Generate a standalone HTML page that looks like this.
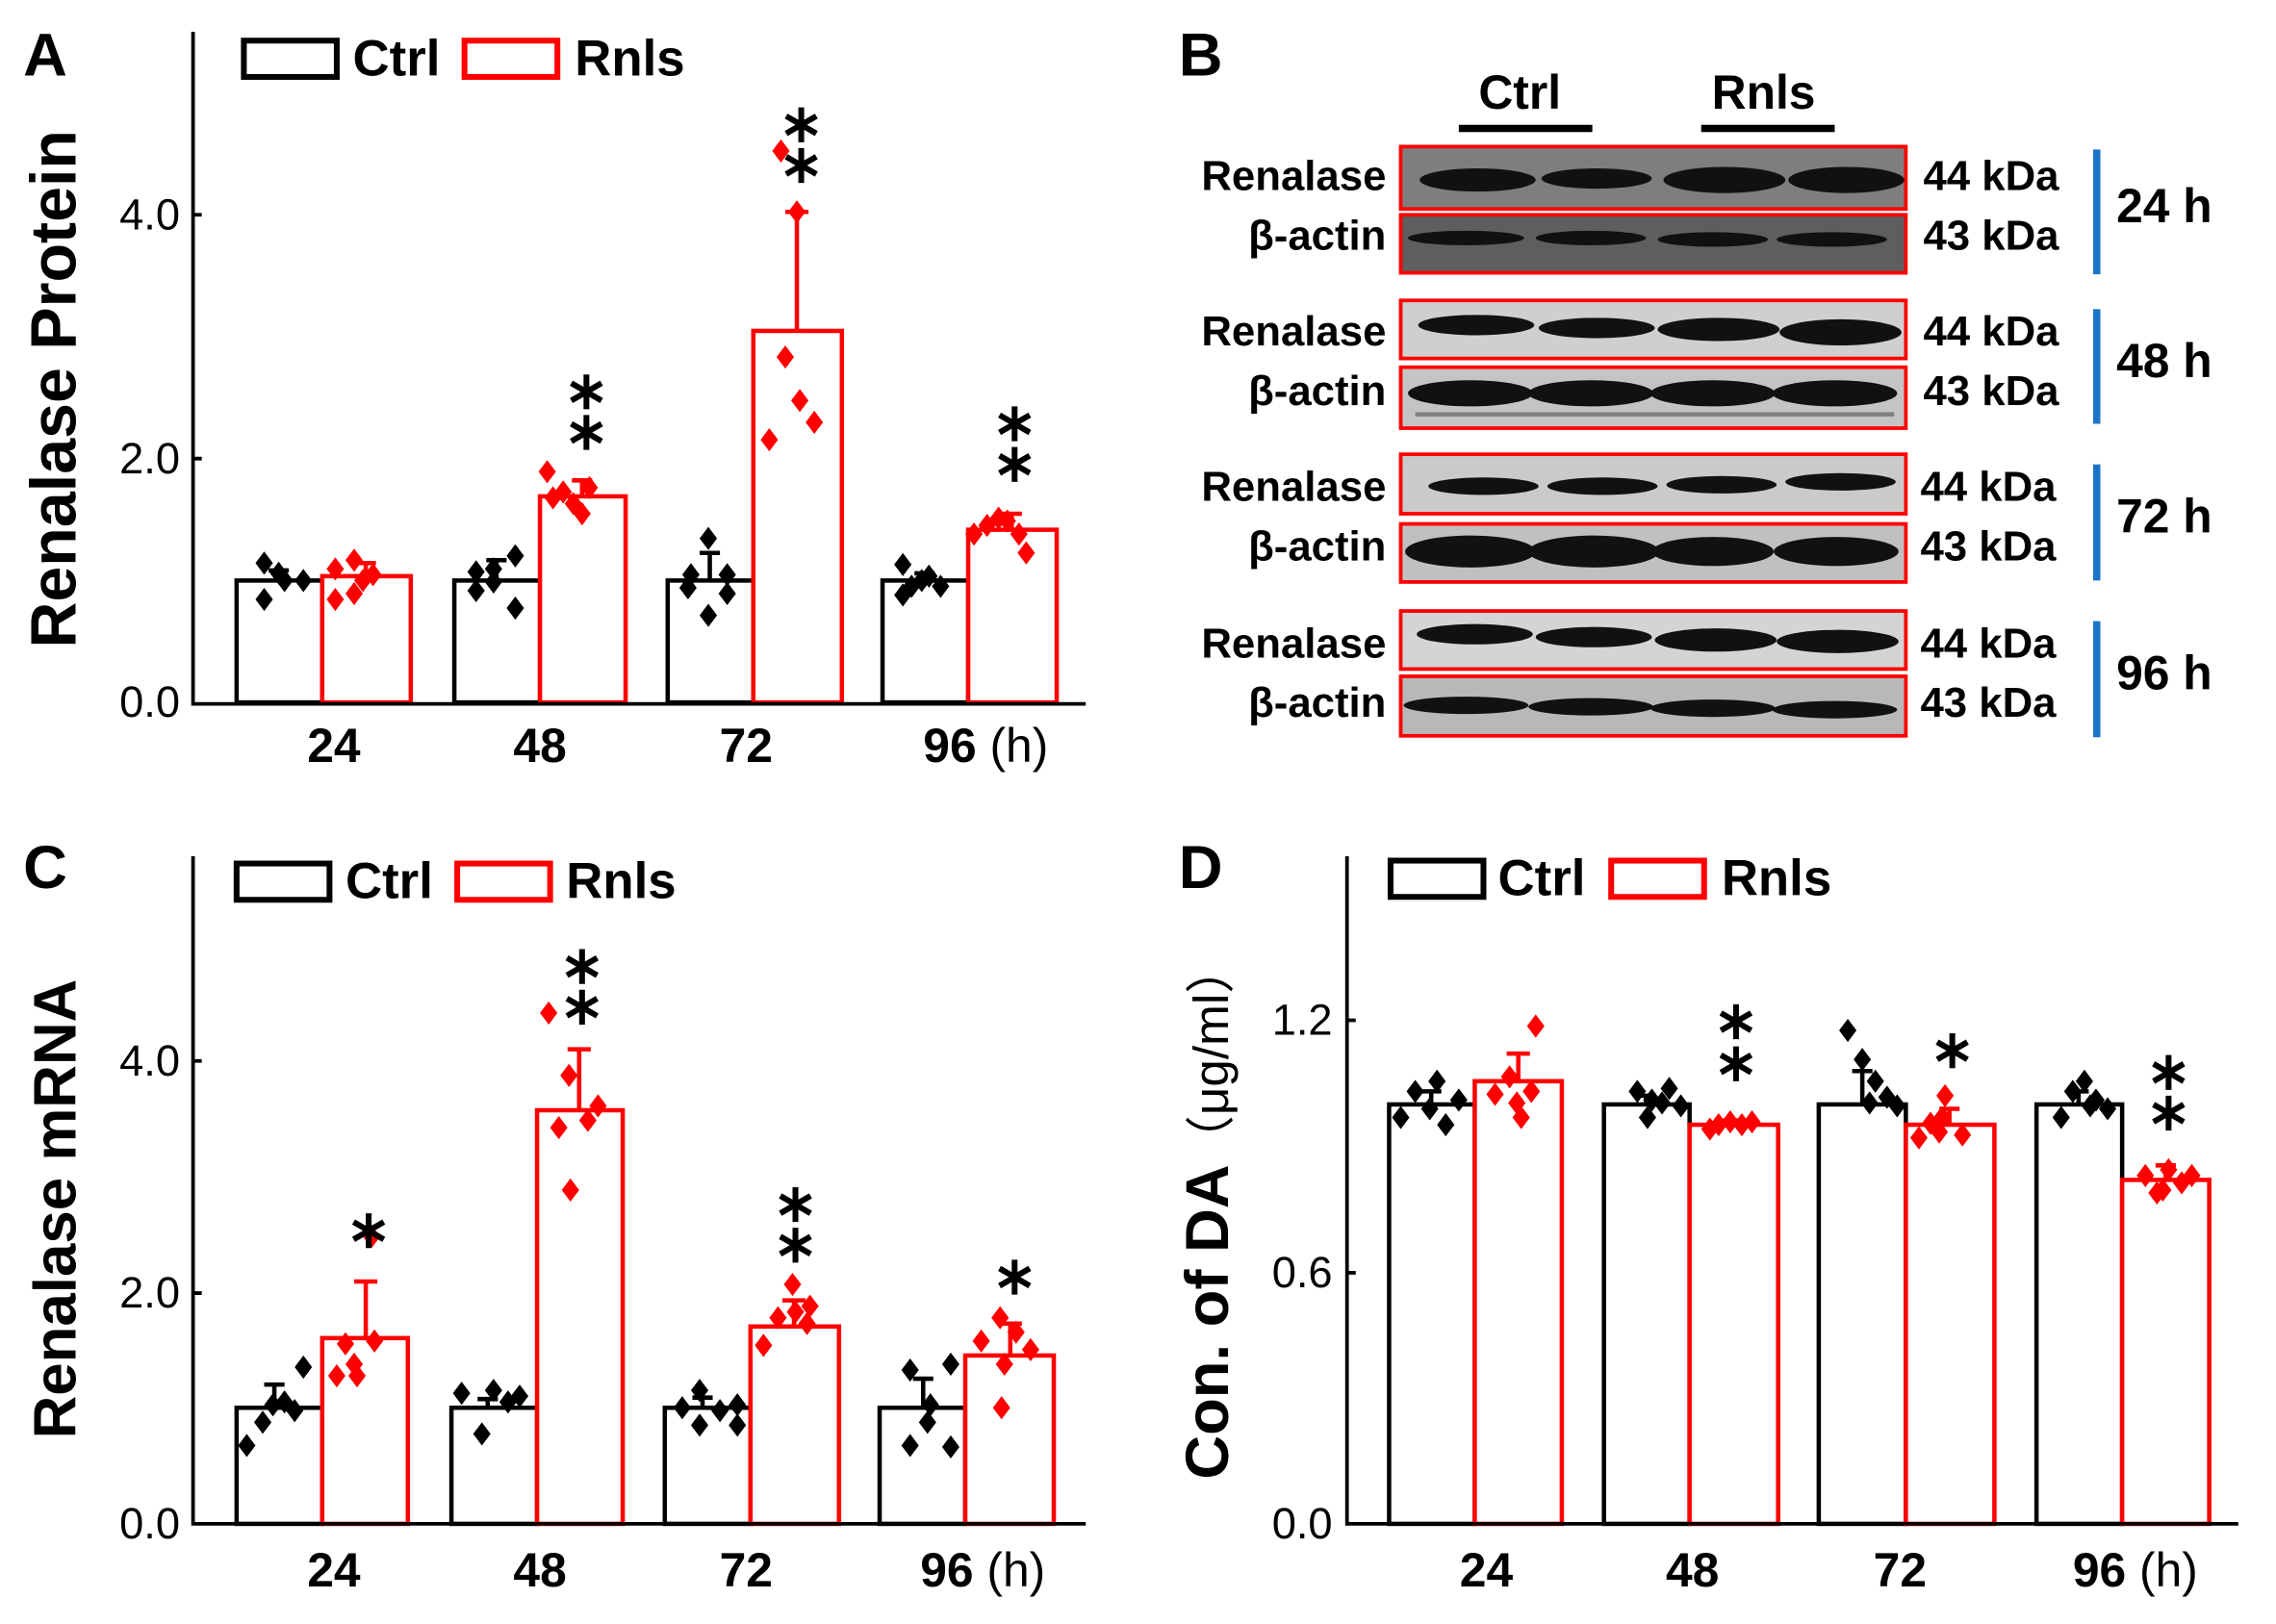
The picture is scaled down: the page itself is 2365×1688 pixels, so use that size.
<!DOCTYPE html>
<html><head><meta charset="utf-8"><style>
html,body{margin:0;padding:0;background:#fff;}
svg{display:block;}
.t{font-family:"Liberation Sans Narrow","Liberation Sans",sans-serif;}
.b{font-family:"Liberation Sans",sans-serif;font-weight:bold;}
</style></head><body>
<svg width="2365" height="1688" viewBox="0 0 1568 1119" preserveAspectRatio="none" xmlns="http://www.w3.org/2000/svg">
<rect width="1568" height="1119" fill="#fff"/>
<defs>
<path id="d" d="M0 -8 L6 0 L0 8 L-6 0Z"/>
<path id="s" d="M0 -12V12M-10.4 -6L10.4 6M-10.4 6L10.4 -6" stroke="#000" stroke-width="4"/>
</defs>

<!-- ============ PANEL A ============ -->
<text x="16" y="52" class="b" font-size="42">A</text>
<g fill="#fff" stroke-width="3">
<rect x="163" y="400" width="59" height="84" stroke="#000"/>
<rect x="222" y="397" width="61" height="87" stroke="#f00"/>
<rect x="313" y="400" width="59" height="84" stroke="#000"/>
<rect x="372" y="342" width="59" height="142" stroke="#f00"/>
<rect x="460" y="400" width="59" height="84" stroke="#000"/>
<rect x="519" y="228" width="61" height="256" stroke="#f00"/>
<rect x="608" y="400" width="59" height="84" stroke="#000"/>
<rect x="667" y="365" width="61" height="119" stroke="#f00"/>
</g>
<g stroke-width="3">
<path d="M192 400V393M185 393H199M342 400V386M335 386H349M489 400V381M482 381H496M637 400V395M630 395H644" stroke="#000"/>
<path d="M252 397V388M245 388H259M401 342V331M394 331H408M549 228V146M541 146H557M697 365V354M690 354H704" stroke="#f00"/>
</g>
<g fill="#000">
<use href="#d" x="182" y="388"/><use href="#d" x="182" y="413"/><use href="#d" x="196" y="400"/><use href="#d" x="209" y="400"/><use href="#d" x="192" y="395"/>
<use href="#d" x="328" y="394"/><use href="#d" x="328" y="407"/><use href="#d" x="340" y="392"/><use href="#d" x="355" y="383"/><use href="#d" x="355" y="419"/><use href="#d" x="340" y="401"/>
<use href="#d" x="474" y="405"/><use href="#d" x="488" y="371"/><use href="#d" x="488" y="424"/><use href="#d" x="476" y="396"/><use href="#d" x="501" y="396"/><use href="#d" x="501" y="409"/>
<use href="#d" x="622" y="389"/><use href="#d" x="622" y="410"/><use href="#d" x="635" y="400"/><use href="#d" x="648" y="404"/><use href="#d" x="640" y="397"/><use href="#d" x="628" y="404"/>
</g>
<g fill="#f00">
<use href="#d" x="231" y="392"/><use href="#d" x="231" y="413"/><use href="#d" x="244" y="386"/><use href="#d" x="244" y="409"/><use href="#d" x="257" y="396"/><use href="#d" x="250" y="400"/>
<use href="#d" x="377" y="325"/><use href="#d" x="381" y="343"/><use href="#d" x="388" y="339"/><use href="#d" x="395" y="347"/><use href="#d" x="401" y="354"/><use href="#d" x="406" y="336"/>
<use href="#d" x="538" y="104"/><use href="#d" x="541" y="246"/><use href="#d" x="551" y="276"/><use href="#d" x="530" y="303"/><use href="#d" x="561" y="291"/><use href="#d" x="549" y="146"/>
<use href="#d" x="671" y="368"/><use href="#d" x="680" y="362"/><use href="#d" x="688" y="357"/><use href="#d" x="694" y="359"/><use href="#d" x="702" y="368"/><use href="#d" x="707" y="381"/>
</g>
<use href="#s" x="404" y="270"/><use href="#s" x="404" y="298"/>
<use href="#s" x="552" y="86"/><use href="#s" x="552" y="114"/>
<use href="#s" x="699" y="292"/><use href="#s" x="699" y="320"/>
<path d="M133 22V485H748M133 148H139M133 316H139" stroke="#000" stroke-width="2.5" fill="none"/>
<g class="t" font-size="30" text-anchor="end"><text x="124" y="494">0.0</text><text x="124" y="326">2.0</text><text x="124" y="158">4.0</text></g>
<text transform="translate(52,268) rotate(-90)" class="b" font-size="44" text-anchor="middle">Renalase Protein</text>
<g class="b" font-size="33" text-anchor="middle"><text x="230" y="525">24</text><text x="372" y="525">48</text><text x="514" y="525">72</text></g>
<text x="636" y="525" class="b" font-size="33">96 <tspan font-weight="normal">(h)</tspan></text>
<rect x="168" y="28" width="64" height="25" fill="none" stroke="#000" stroke-width="4"/>
<text x="243" y="52" class="b" font-size="35">Ctrl</text>
<rect x="320" y="28" width="64" height="25" fill="none" stroke="#f00" stroke-width="4"/>
<text x="396" y="52" class="b" font-size="35">Rnls</text>

<!-- ============ PANEL B ============ -->
<text x="812" y="52" class="b" font-size="42">B</text>
<text x="1047" y="75" class="b" font-size="33" text-anchor="middle">Ctrl</text>
<text x="1215" y="75" class="b" font-size="33" text-anchor="middle">Rnls</text>
<rect x="1005" y="86" width="92" height="5" fill="#000"/>
<rect x="1172" y="86" width="92" height="5" fill="#000"/>
<g stroke="#f00" stroke-width="2.5">
<rect x="965" y="101" width="348" height="43" fill="#7e7e7e"/>
<rect x="965" y="148" width="348" height="40" fill="#5e5e5e"/>
<rect x="965" y="207" width="348" height="40" fill="#cfcfcf"/>
<rect x="965" y="253" width="348" height="42" fill="#c4c4c4"/>
<rect x="965" y="313" width="348" height="41" fill="#cacaca"/>
<rect x="965" y="361" width="348" height="40" fill="#c0c0c0"/>
<rect x="965" y="421" width="348" height="40" fill="#d4d4d4"/>
<rect x="965" y="466" width="348" height="41" fill="#b8b8b8"/>
</g>
<g fill="#111">
<ellipse cx="1018" cy="124" rx="40" ry="8"/><ellipse cx="1100" cy="123" rx="38" ry="7"/><ellipse cx="1188" cy="124" rx="42" ry="9"/><ellipse cx="1272" cy="124" rx="40" ry="9"/>
<ellipse cx="1010" cy="164" rx="40" ry="5"/><ellipse cx="1096" cy="164" rx="38" ry="5"/><ellipse cx="1180" cy="165" rx="38" ry="5"/><ellipse cx="1262" cy="165" rx="38" ry="5"/>
<ellipse cx="1017" cy="224" rx="40" ry="7"/><ellipse cx="1100" cy="226" rx="40" ry="7"/><ellipse cx="1184" cy="227" rx="42" ry="8"/><ellipse cx="1268" cy="229" rx="42" ry="9"/>
<ellipse cx="1013" cy="271" rx="43" ry="9"/><ellipse cx="1096" cy="271" rx="43" ry="9"/><ellipse cx="1180" cy="271" rx="43" ry="9"/><ellipse cx="1264" cy="271" rx="43" ry="9"/>
<ellipse cx="1022" cy="335" rx="38" ry="6"/><ellipse cx="1104" cy="335" rx="38" ry="6"/><ellipse cx="1186" cy="334" rx="38" ry="6"/><ellipse cx="1268" cy="332" rx="38" ry="6"/>
<ellipse cx="1013" cy="380" rx="45" ry="11"/><ellipse cx="1098" cy="380" rx="45" ry="11"/><ellipse cx="1180" cy="380" rx="42" ry="10"/><ellipse cx="1265" cy="380" rx="43" ry="10"/>
<ellipse cx="1016" cy="437" rx="40" ry="7"/><ellipse cx="1098" cy="439" rx="40" ry="7"/><ellipse cx="1182" cy="441" rx="42" ry="8"/><ellipse cx="1266" cy="442" rx="42" ry="8"/>
<ellipse cx="1010" cy="486" rx="43" ry="6"/><ellipse cx="1096" cy="487" rx="43" ry="6"/><ellipse cx="1180" cy="488" rx="43" ry="6"/><ellipse cx="1264" cy="489" rx="43" ry="6"/>
</g>
<g fill="#555" opacity="0.6"><rect x="975" y="284" width="330" height="3"/></g>
<g class="b" font-size="29" text-anchor="end">
<text x="955" y="131">Renalase</text><text x="955" y="172">β-actin</text>
<text x="955" y="238">Renalase</text><text x="955" y="279">β-actin</text>
<text x="955" y="345">Renalase</text><text x="955" y="386">β-actin</text>
<text x="955" y="453">Renalase</text><text x="955" y="494">β-actin</text>
</g>
<g class="b" font-size="29">
<text x="1325" y="131">44 kDa</text><text x="1325" y="172">43 kDa</text>
<text x="1325" y="238">44 kDa</text><text x="1325" y="279">43 kDa</text>
<text x="1323" y="345">44 kDa</text><text x="1323" y="386">43 kDa</text>
<text x="1323" y="453">44 kDa</text><text x="1323" y="494">43 kDa</text>
</g>
<g fill="#1a75c8">
<rect x="1442" y="103" width="5" height="86"/><rect x="1442" y="213" width="5" height="79"/>
<rect x="1442" y="320" width="5" height="80"/><rect x="1442" y="428" width="5" height="80"/>
</g>
<g class="b" font-size="33">
<text x="1458" y="153">24 h</text><text x="1458" y="260">48 h</text>
<text x="1458" y="367">72 h</text><text x="1458" y="475">96 h</text>
</g>

<!-- ============ PANEL C ============ -->
<text x="16" y="612" class="b" font-size="42">C</text>
<g fill="#fff" stroke-width="3">
<rect x="163" y="970" width="59" height="80" stroke="#000"/>
<rect x="222" y="922" width="59" height="128" stroke="#f00"/>
<rect x="311" y="970" width="59" height="80" stroke="#000"/>
<rect x="370" y="765" width="59" height="285" stroke="#f00"/>
<rect x="458" y="970" width="59" height="80" stroke="#000"/>
<rect x="517" y="914" width="61" height="136" stroke="#f00"/>
<rect x="606" y="970" width="59" height="80" stroke="#000"/>
<rect x="665" y="934" width="61" height="116" stroke="#f00"/>
</g>
<g stroke-width="3">
<path d="M189 970V954M182 954H196M336 970V964M329 964H343M484 970V963M477 963H491M636 970V950M629 950H643" stroke="#000"/>
<path d="M252 922V883M244 883H260M399 765V723M391 723H407M547 914V896M539 896H555M696 934V912M688 912H704" stroke="#f00"/>
</g>
<g fill="#000">
<use href="#d" x="170" y="996"/><use href="#d" x="181" y="980"/><use href="#d" x="196" y="966"/><use href="#d" x="203" y="972"/><use href="#d" x="209" y="942"/><use href="#d" x="188" y="968"/>
<use href="#d" x="318" y="960"/><use href="#d" x="332" y="988"/><use href="#d" x="340" y="958"/><use href="#d" x="350" y="966"/><use href="#d" x="358" y="962"/>
<use href="#d" x="470" y="970"/><use href="#d" x="482" y="958"/><use href="#d" x="482" y="982"/><use href="#d" x="496" y="972"/><use href="#d" x="508" y="968"/><use href="#d" x="508" y="982"/>
<use href="#d" x="627" y="996"/><use href="#d" x="627" y="944"/><use href="#d" x="639" y="980"/><use href="#d" x="655" y="997"/><use href="#d" x="655" y="940"/><use href="#d" x="641" y="968"/>
</g>
<g fill="#f00">
<use href="#d" x="232" y="948"/><use href="#d" x="238" y="926"/><use href="#d" x="246" y="948"/><use href="#d" x="258" y="924"/><use href="#d" x="256" y="852"/><use href="#d" x="244" y="940"/>
<use href="#d" x="378" y="698"/><use href="#d" x="392" y="741"/><use href="#d" x="385" y="777"/><use href="#d" x="393" y="820"/><use href="#d" x="405" y="772"/><use href="#d" x="412" y="762"/>
<use href="#d" x="526" y="927"/><use href="#d" x="536" y="908"/><use href="#d" x="548" y="904"/><use href="#d" x="546" y="885"/><use href="#d" x="558" y="900"/><use href="#d" x="556" y="912"/>
<use href="#d" x="676" y="924"/><use href="#d" x="690" y="970"/><use href="#d" x="692" y="940"/><use href="#d" x="689" y="908"/><use href="#d" x="710" y="930"/><use href="#d" x="700" y="918"/>
</g>
<use href="#s" x="254" y="848"/>
<use href="#s" x="401" y="666"/><use href="#s" x="401" y="694"/>
<use href="#s" x="548" y="830"/><use href="#s" x="548" y="858"/>
<use href="#s" x="699" y="880"/>
<path d="M133 590V1050H748M133 731H139M133 891H139" stroke="#000" stroke-width="2.5" fill="none"/>
<g class="t" font-size="30" text-anchor="end"><text x="124" y="1060">0.0</text><text x="124" y="901">2.0</text><text x="124" y="741">4.0</text></g>
<text transform="translate(52,833) rotate(-90)" class="b" font-size="41" text-anchor="middle">Renalase mRNA</text>
<g class="b" font-size="33" text-anchor="middle"><text x="230" y="1093">24</text><text x="372" y="1093">48</text><text x="514" y="1093">72</text></g>
<text x="634" y="1093" class="b" font-size="33">96 <tspan font-weight="normal">(h)</tspan></text>
<rect x="163" y="595" width="64" height="25" fill="none" stroke="#000" stroke-width="4"/>
<text x="238" y="619" class="b" font-size="35">Ctrl</text>
<rect x="315" y="595" width="64" height="25" fill="none" stroke="#f00" stroke-width="4"/>
<text x="390" y="619" class="b" font-size="35">Rnls</text>

<!-- ============ PANEL D ============ -->
<text x="812" y="612" class="b" font-size="42">D</text>
<g fill="#fff" stroke-width="3">
<rect x="957" y="761" width="59" height="289" stroke="#000"/>
<rect x="1016" y="745" width="60" height="305" stroke="#f00"/>
<rect x="1105" y="761" width="59" height="289" stroke="#000"/>
<rect x="1164" y="775" width="61" height="275" stroke="#f00"/>
<rect x="1253" y="761" width="60" height="289" stroke="#000"/>
<rect x="1313" y="775" width="61" height="275" stroke="#f00"/>
<rect x="1403" y="761" width="59" height="289" stroke="#000"/>
<rect x="1462" y="813" width="60" height="237" stroke="#f00"/>
</g>
<g stroke-width="3">
<path d="M986 761V752M979 752H993M1134 761V755M1127 755H1141M1283 761V738M1276 738H1290M1432 761V752M1425 752H1439" stroke="#000"/>
<path d="M1046 745V726M1038 726H1054M1194 775V772M1187 772H1201M1343 775V764M1336 764H1350M1492 813V803M1485 803H1499" stroke="#f00"/>
</g>
<g fill="#000">
<use href="#d" x="965" y="770"/><use href="#d" x="975" y="752"/><use href="#d" x="985" y="764"/><use href="#d" x="990" y="745"/><use href="#d" x="996" y="775"/><use href="#d" x="1005" y="758"/>
<use href="#d" x="1128" y="752"/><use href="#d" x="1135" y="770"/><use href="#d" x="1145" y="760"/><use href="#d" x="1150" y="750"/><use href="#d" x="1158" y="762"/><use href="#d" x="1138" y="758"/>
<use href="#d" x="1273" y="710"/><use href="#d" x="1283" y="730"/><use href="#d" x="1292" y="745"/><use href="#d" x="1300" y="756"/><use href="#d" x="1307" y="762"/><use href="#d" x="1288" y="760"/>
<use href="#d" x="1420" y="770"/><use href="#d" x="1428" y="752"/><use href="#d" x="1436" y="745"/><use href="#d" x="1444" y="758"/><use href="#d" x="1452" y="764"/><use href="#d" x="1440" y="762"/>
</g>
<g fill="#f00">
<use href="#d" x="1030" y="754"/><use href="#d" x="1040" y="742"/><use href="#d" x="1048" y="770"/><use href="#d" x="1055" y="752"/><use href="#d" x="1058" y="707"/><use href="#d" x="1045" y="760"/>
<use href="#d" x="1178" y="778"/><use href="#d" x="1184" y="775"/><use href="#d" x="1192" y="773"/><use href="#d" x="1200" y="775"/><use href="#d" x="1207" y="773"/>
<use href="#d" x="1322" y="784"/><use href="#d" x="1330" y="774"/><use href="#d" x="1338" y="770"/><use href="#d" x="1340" y="755"/><use href="#d" x="1352" y="782"/><use href="#d" x="1336" y="780"/>
<use href="#d" x="1478" y="810"/><use href="#d" x="1486" y="822"/><use href="#d" x="1494" y="806"/><use href="#d" x="1503" y="815"/><use href="#d" x="1510" y="810"/><use href="#d" x="1490" y="820"/>
</g>
<use href="#s" x="1196" y="704"/><use href="#s" x="1196" y="733"/>
<use href="#s" x="1345" y="724"/>
<use href="#s" x="1494" y="739"/><use href="#s" x="1494" y="767"/>
<path d="M928 590V1050H1542M928 703H934M928 877H934" stroke="#000" stroke-width="2.5" fill="none"/>
<g class="t" font-size="30" text-anchor="end"><text x="918" y="1060">0.0</text><text x="918" y="887">0.6</text><text x="918" y="713">1.2</text></g>
<text transform="translate(846,835) rotate(-90)" class="b" font-size="42" text-anchor="middle">Con. of DA<tspan font-weight="normal" font-size="34" font-family="'Liberation Sans','Noto Sans CJK SC',sans-serif">（μg/ml）</tspan></text>
<g class="b" font-size="33" text-anchor="middle"><text x="1024" y="1093">24</text><text x="1166" y="1093">48</text><text x="1309" y="1093">72</text></g>
<text x="1428" y="1093" class="b" font-size="33">96 <tspan font-weight="normal">(h)</tspan></text>
<rect x="958" y="593" width="64" height="25" fill="none" stroke="#000" stroke-width="4"/>
<text x="1032" y="617" class="b" font-size="35">Ctrl</text>
<rect x="1110" y="593" width="64" height="25" fill="none" stroke="#f00" stroke-width="4"/>
<text x="1186" y="617" class="b" font-size="35">Rnls</text>
</svg>
</body></html>
